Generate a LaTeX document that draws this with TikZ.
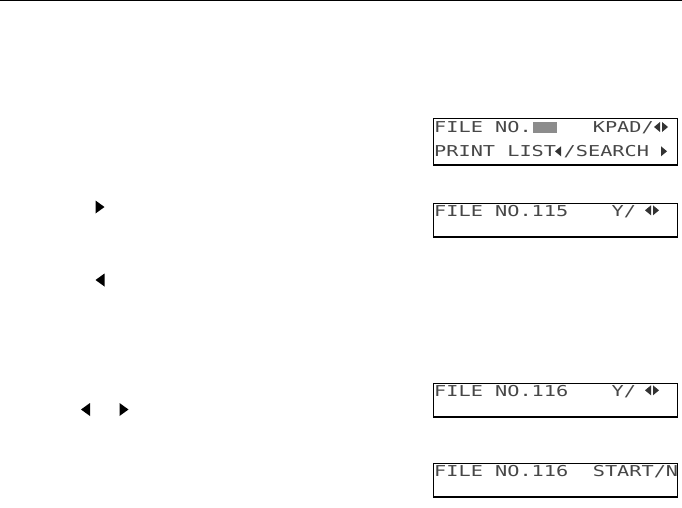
\documentclass[tikz,border=0pt]{standalone}
\usepackage{fontspec}
\newfontfamily\lcdfont[FakeStretch=1.35]{DejaVu Sans Mono}
\tikzset{
  lcdbox/.style={draw=black, line width=1.6pt, inner sep=0pt, anchor=north west, minimum width=244pt},
  lcdtext/.style={inner sep=0pt, anchor=base west, text=black!72, font=\lcdfont\fontsize{15}{15}\selectfont},
  shadebox/.style={fill=black!45, draw=none}
}
\newcommand{\lcdleft}[3]{\fill[black!80] (#1,#3) -- (#2,#3-5) -- (#2,#3+5) -- cycle;}
\newcommand{\lcdright}[3]{\fill[black!80] (#2,#3) -- (#1,#3-5) -- (#1,#3+5) -- cycle;}
\newcommand{\bigleft}[2]{\fill (#1,#2) -- (#1+9,#2-6.5) -- (#1+9,#2+6.5) -- cycle;}
\newcommand{\bigright}[2]{\fill (#1+9,#2) -- (#1,#2-6.5) -- (#1,#2+6.5) -- cycle;}
\begin{document}
\begin{tikzpicture}[x=1pt,y=-1pt]
\useasboundingbox (0,0) rectangle (682,508);
% top rule
\fill (0,0) rectangle (682,1.5);

% left markers
\bigright{95.5}{207}
\bigleft{95.5}{280}
\bigleft{81}{409.5}
\bigright{119.5}{409.5}

% LCD boxes
\node[lcdbox, minimum height=46.6pt] (box1) at (432.7,117.7) {};
\node[lcdbox, minimum height=33.3pt] (box2) at (432.7,202.7) {};
\node[lcdbox, minimum height=33.3pt] (box3) at (432.7,382.7) {};
\node[lcdbox, minimum height=33.3pt] (box4) at (432.7,462.7) {};

% box 1
\node[lcdtext] (b1a) at (434,132.5) {FILE NO.};
\fill[shadebox] (533,122) rectangle (557,133);
\node[lcdtext] (b1b) at (592.6,132.5) {KPAD/};
\lcdleft{654}{660}{127}
\lcdright{662}{668}{127}
\node[lcdtext] (b1c) at (434,156.5) {PRINT LIST};
\lcdleft{555}{561}{151.3}
\node[lcdtext] (b1d) at (563.5,156.5) {/SEARCH};
\lcdright{661}{667}{151.3}

% box 2
\node[lcdtext] (b2a) at (434,216) {FILE NO.115};
\node[lcdtext] (b2b) at (611.5,216) {Y/};
\lcdleft{645}{651}{210.3}
\lcdright{653}{659}{210.3}

% box 3
\node[lcdtext] (b3a) at (434,396) {FILE NO.116};
\node[lcdtext] (b3b) at (611.5,396) {Y/};
\lcdleft{645}{651}{390.3}
\lcdright{653}{659}{390.3}

% box 4
\node[lcdtext] (b4a) at (434,476) {FILE NO.116};
\node[lcdtext] (b4b) at (592.6,476) {START/N};
\end{tikzpicture}
\end{document}
